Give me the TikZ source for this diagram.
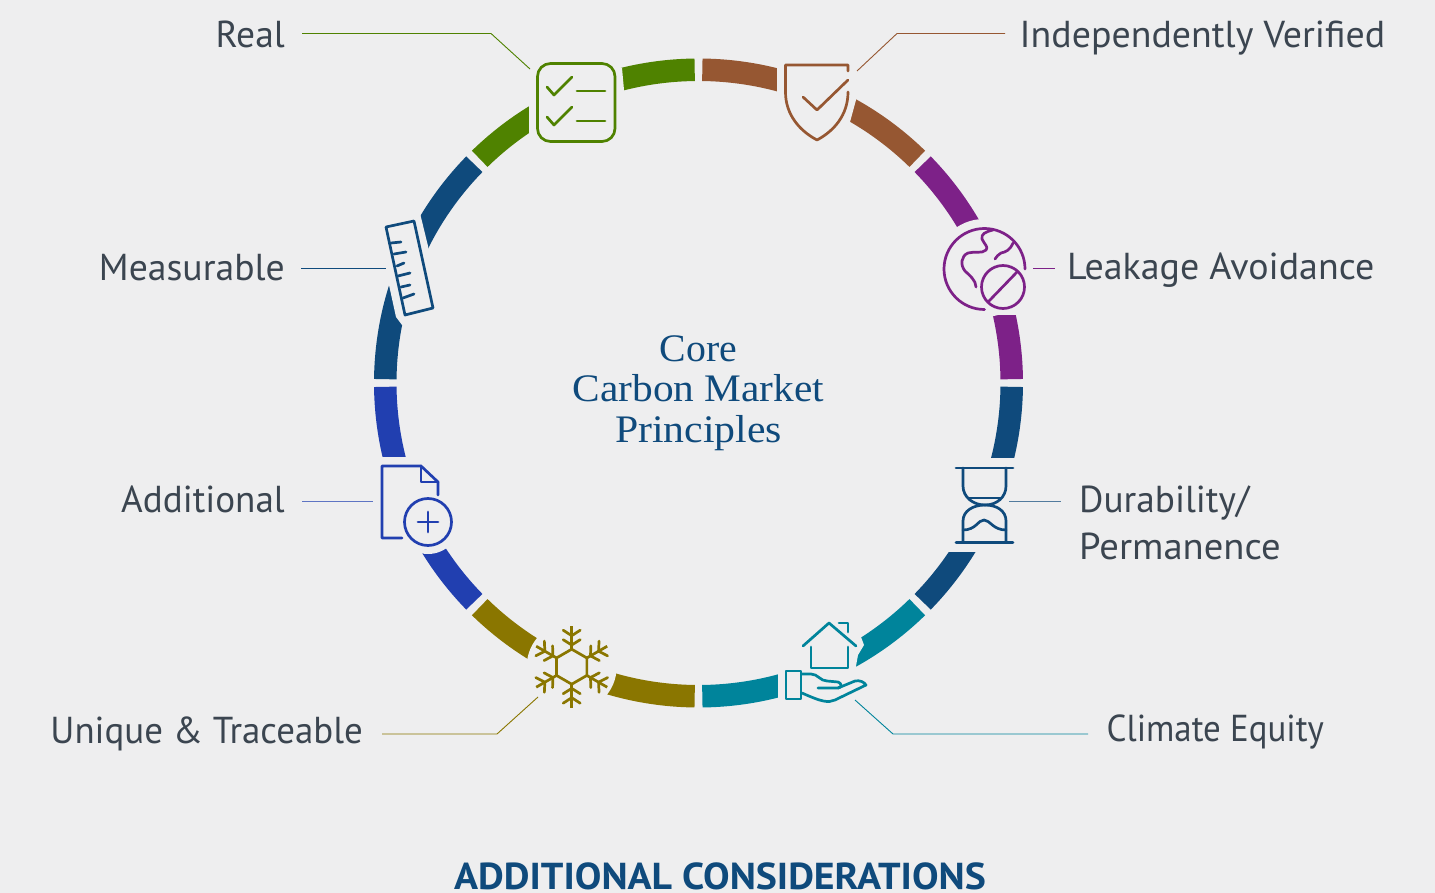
\documentclass[tikz,border=0pt]{standalone}
\usepackage{fontspec}
\usepackage{graphicx}
\setmainfont{PT Sans}
\newfontfamily\serifface{Liberation Serif}
\usetikzlibrary{calc}
\definecolor{bgc}{HTML}{EEEEEF}
\definecolor{grn}{HTML}{4F8200}
\definecolor{brn}{HTML}{965732}
\definecolor{pur}{HTML}{7D2188}
\definecolor{nav}{HTML}{0F4A7C}
\definecolor{tea}{HTML}{00849B}
\definecolor{oli}{HTML}{8A7600}
\definecolor{blu}{HTML}{213FB0}
\definecolor{txt}{HTML}{3B4550}
\tikzset{
  lbl/.style={text=txt,font=\fontsize{37.5}{37.5}\selectfont,inner sep=0pt,anchor=base east},
  lblw/.style={text=txt,font=\fontsize{37.5}{37.5}\selectfont,inner sep=0pt,anchor=base west},
  ctr/.style={text=nav,font=\serifface\fontsize{39}{39}\selectfont,inner sep=0pt,anchor=base},
  leader/.style={draw=#1,line width=0.9pt},
  icon/.style={draw=#1,line width=2.7pt,line cap=round,line join=round},
  maskfill/.style={fill=bgc,draw=none},
}
\newcommand{\seg}[3]{\draw[#3,line width=22.5pt] ([shift={(#1:313.25pt)}]c) arc[start angle=#1,end angle=#2,radius=313.25pt];}
\newcommand{\sx}[2]{\scalebox{#1}[1]{#2}}
\begin{document}
\begin{tikzpicture}[x=1pt,y=-1pt]
\useasboundingbox (0,0) rectangle (1435,893);
\fill[bgc] (0,0) rectangle (1435,893);
\coordinate (c) at (698.5,383);
% ring
\seg{90.7}{134.3}{grn}
\seg{45.7}{89.3}{brn}
\seg{0.7}{44.3}{pur}
\seg{-44.3}{-0.7}{nav}
\seg{-89.3}{-45.7}{tea}
\seg{-134.3}{-90.7}{oli}
\seg{-179.3}{-135.7}{blu}
\seg{135.7}{179.3}{nav}
% masks behind the icons
\fill[maskfill] (529,40) -- (622,68) -- (624,90) -- (624,170) -- (529,170) -- cycle;
\fill[maskfill] (777,45) -- (860,45) -- (856,100) -- (850,122) -- (777,150) -- cycle;
\fill[maskfill] (984,268) circle[radius=49];
\fill[maskfill] (985,268) rectangle (1035,315);
\fill[maskfill] (940,458) rectangle (1035,552);
\fill[maskfill] (778,640) -- (778,720) -- (856,720) -- (856,666) -- (858,655) -- (864,645) -- (861,637) -- cycle;
\fill[maskfill] (571.7,666.7) circle[radius=45];
\fill[maskfill] (360,457) rectangle (445,535);
\fill[maskfill] (428,522) circle[radius=32];
\fill[maskfill] (389,285) -- (378,215) -- (418,205) -- (428,246) -- (442,320) -- (402,325) -- (396,317) -- cycle;
% Real
\draw[icon=grn,rounded corners=13pt] (537.5,63.5) rectangle (615,141.5);
\draw[icon=grn] (547,87) -- (554,95) -- (572,77);
\draw[icon=grn] (577,91) -- (605,91);
\draw[icon=grn] (547,117) -- (554,125) -- (572,107);
\draw[icon=grn] (577,121) -- (605,121);
% Shield
\draw[icon=brn] (848,71) -- (848,65) -- (785.5,65) -- (785.5,92) .. controls (785.5,115) and (800,131) .. (817,140) .. controls (834,131) and (848,115) .. (848,92);
\draw[icon=brn] (803,97) -- (817,110) -- (848,80);
% Globe
\draw[icon=pur] (1025,269) arc[start angle=0,end angle=270,radius=40.5pt];
\draw[icon=pur] (1003,287) circle[radius=21.5];
\draw[icon=pur] (989,301) -- (1017,272);
\draw[icon=pur] (993,230) .. controls (985,232) and (981,234) .. (982,239) .. controls (984,244) and (989,247) .. (986,250) .. controls (982,254) and (975,251) .. (968,253) .. controls (961,256) and (960,265) .. (965,271) .. controls (969,275) and (976,280) .. (976,287);
\draw[icon=pur] (1013,243) .. controls (1010,250) and (1006,252) .. (1001,253) .. controls (998,254) and (997,257) .. (995,259);
% Hourglass
\draw[icon=nav] (956,468) -- (1013,468);
\draw[icon=nav] (956,542.5) -- (1013,542.5);
\draw[icon=nav] (963,468) -- (963,486) .. controls (963,497) and (973,505) .. (985,505) .. controls (997,505) and (1006,497) .. (1006,486) -- (1006,468);
\draw[icon=nav] (963,542) -- (963,521) .. controls (963,511) and (973,505) .. (985,505) .. controls (997,505) and (1006,511) .. (1006,521) -- (1006,542);
\draw[icon=nav] (968,498) -- (1001,498);
\draw[icon=nav] (963,530) .. controls (976,530) and (978,520) .. (984,520) .. controls (990,520) and (993,530) .. (1006,530);
% Climate
\draw[icon=tea] (803,646) -- (829,623) -- (856,646);
\draw[icon=tea] (811,647) -- (811,668) -- (848,668) -- (848,647);
\draw[icon=tea] (839,623) -- (848,623) -- (848,632);
\draw[icon=tea] (786,671) rectangle (801,699);
\draw[icon=tea] (802,674) -- (811,674) .. controls (818,674) and (820,681) .. (827,681) -- (838,682) .. controls (842,683) and (842,688) .. (838,688) -- (818,688);
\draw[icon=tea] (838,688) -- (855,681) .. controls (860,680) and (864,682) .. (866,685) -- (835,700) .. controls (828,703) and (822,702) .. (802,693);
% Snowflake
\foreach \a in {30,90,...,330}{
  \begin{scope}[shift={(571.7,666.7)},rotate=\a]
    \draw[icon=oli,line cap=butt] (17.5pt,0pt) -- (41pt,0pt);
    \draw[icon=oli] (21.7pt,0pt) -- (27pt,8.5pt);
    \draw[icon=oli] (21.7pt,0pt) -- (27pt,-8.5pt);
    \draw[icon=oli] (31pt,0pt) -- (36.5pt,8.5pt);
    \draw[icon=oli] (31pt,0pt) -- (36.5pt,-8.5pt);
    \draw[icon=oli] (17.5pt,0pt) -- (8.75pt,15.16pt);
  \end{scope}
}
% Additional
\draw[icon=blu] (402,538) -- (382,538) -- (382,466) -- (421,466) -- (438,482) -- (438,495);
\draw[icon=blu] (421,466) -- (421,482) -- (438,482);
\draw[icon=blu] (428,522) circle[radius=23.5];
\draw[icon=blu] (418,522) -- (438,522);
\draw[icon=blu] (428,512) -- (428,532);
% Ruler
\draw[icon=nav] (386,227) -- (414,221) -- (433,308) -- (405,315) -- cycle;
\draw[icon=nav] (391,243) -- (401,242);
\draw[icon=nav] (394,254) -- (406,252);
\draw[icon=nav] (397,266) -- (404,263);
\draw[icon=nav] (398,276) -- (410,273);
\draw[icon=nav] (401,287) -- (410,285);
\draw[icon=nav] (403,298) -- (414,294);
% Labels
\node[lbl] (lReal) at (285,47.5) {Real};
\node[lblw] (lInd) at (1019.5,47.5) {\sx{1.01}{Independently Verified}};
\node[lblw] (lLeak) at (1067,280) {\sx{1.012}{Leakage Avoidance}};
\node[lbl] (lMeas) at (285,281) {\sx{1.005}{Measurable}};
\node[lbl] (lAdd) at (285,512) {\sx{0.99}{Additional}};
\node[lblw] (lDur) at (1079,512) {\sx{0.995}{Durability/}};
\node[lblw] (lPer) at (1079,559) {\sx{1.03}{Permanence}};
\node[lbl] (lUni) at (363,743) {\sx{0.985}{Unique \& Traceable}};
\node[lblw] (lCli) at (1106.5,741) {\sx{0.93}{Climate Equity}};
\node[ctr] (t1) at (698.5,361) {\sx{1.02}{Core}};
\node[ctr] (t2) at (698.5,401) {\sx{1.06}{Carbon Market}};
\node[ctr] (t3) at (698.5,442) {\sx{1.07}{Principles}};
\node[text=nav,font=\bfseries\fontsize{37.5}{37.5}\selectfont,inner sep=0pt,anchor=base] (title) at (720,889.5) {\sx{1.06}{ADDITIONAL CONSIDERATIONS}};
% Leaders
\coordinate (a1) at (302,33.5); \coordinate (a2) at (491,33.5); \coordinate (a3) at (530,69);
\draw[leader=grn] (a1) -- (a2) -- (a3);
\coordinate (b1) at (1005,33.5); \coordinate (b2) at (897,33.5); \coordinate (b3) at (857,71);
\draw[leader=brn] (b1) -- (b2) -- (b3);
\coordinate (d1) at (1033,268); \coordinate (d2) at (1055,268);
\draw[leader=pur] (d1) -- (d2);
\coordinate (e1) at (1009,501); \coordinate (e2) at (1061,501);
\draw[leader=nav!70!bgc] (e1) -- (e2);
\coordinate (f1) at (855,700); \coordinate (f2) at (893,734); \coordinate (f3) at (1088,734);
\draw[leader=tea] (f1) -- (f2) -- (f3);
\coordinate (g1) at (382,734); \coordinate (g2) at (497,734); \coordinate (g3) at (538,697);
\draw[leader=oli] (g1) -- (g2) -- (g3);
\coordinate (h1) at (302,501); \coordinate (h2) at (373,501);
\draw[leader=blu!70!bgc] (h1) -- (h2);
\coordinate (i1) at (301,268); \coordinate (i2) at (386,268);
\draw[leader=nav] (i1) -- (i2);
\end{tikzpicture}
\end{document}
